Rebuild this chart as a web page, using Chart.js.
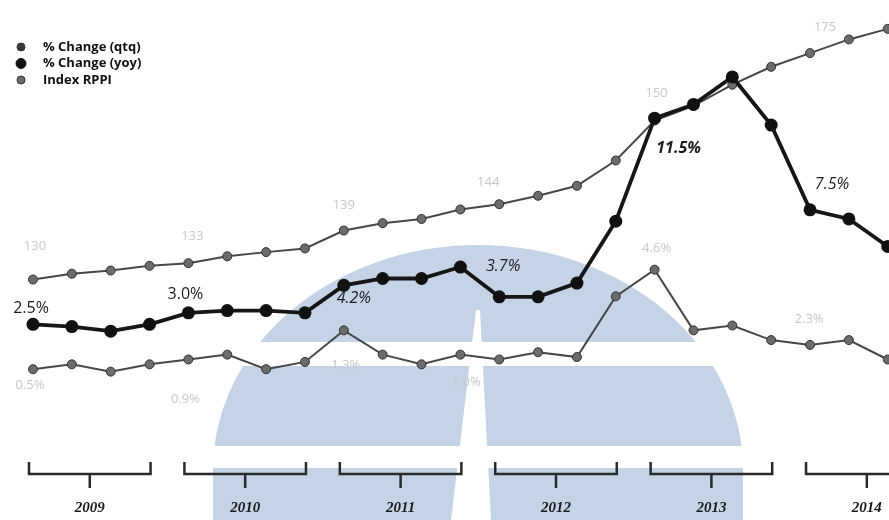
<!DOCTYPE html>
<html>
<head>
<meta charset="utf-8">
<script src="https://cdn.jsdelivr.net/npm/chart.js@4.4.1/dist/chart.umd.min.js"></script>
<style>
html,body{margin:0;padding:0;background:#fff;overflow:hidden;width:889px;height:520px;}
#wrap{position:relative;width:940px;height:520px;}
</style>
</head>
<body>
<div id="wrap"><canvas id="c"></canvas></div>
<script>
// ---------- DATA ----------
const years = ['2009', '2010', '2011', '2012', '2013', '2014'];
const quarters = ['Q1', 'Q2', 'Q3', 'Q4'];
const categories = years.flatMap(y => quarters.map(q => y + ' ' + q));

const qtqValues = [0.5, 0.7, 0.4, 0.7, 0.9, 1.1, 0.5, 0.8, 2.1, 1.1, 0.7, 1.1, 0.9, 1.2, 1.0, 3.5, 4.6, 2.1, 2.3, 1.7, 1.5, 1.7, 0.9];
const yoyValues = [2.5, 2.4, 2.2, 2.5, 3.0, 3.1, 3.1, 3.0, 4.2, 4.5, 4.5, 5.0, 3.7, 3.7, 4.3, 7.0, 11.5, 12.1, 13.3, 11.2, 7.5, 7.1, 5.9];
const rppiValues = [130.0, 131.1, 131.7, 132.6, 133.1, 134.4, 135.2, 135.9, 139.3, 140.7, 141.5, 143.3, 144.3, 145.9, 147.8, 152.6, 160.2, 163.0, 167.0, 170.4, 173.0, 175.6, 177.6];

// value labels shown at the first quarter of each year
const qtqYearLabels = ['0.5%', '0.9%', '1.3%', '1.0%', '4.6%', '2.3%'];
const yoyYearLabels = ['2.5%', '3.0%', '4.2%', '3.7%', '11.5%', '7.5%'];
const rppiYearLabels = ['130', '133', '139', '144', '150', '175'];

const seriesNames = ['% Change (qtq)', '% Change (yoy)', 'Index RPPI'];

// ---------- STYLE (label offsets relative to the point, px) ----------
const labelStyle = {
  yoy:  { font: '16px "Open Sans"', color: '#1c1c1c',
          offsets: [[-2,-16],[-3,-18],[10,13],[4,-30],[24,30],[22,-25]],
          italic: [false,false,true,true,true,true], bold:[false,false,false,false,true,false] },
  rppi: { font: '13px "Open Sans"', color: '#c9c9c9',
          offsets: [[2,-33],[4,-27],[0,-25],[-11,-22],[2,-27],[15,-26]] },
  qtq:  { font: '13px "Open Sans"', color: '#c9c9c9',
          offsets: [[-3,16],[-3,40],[2,35],[-33,23],[2,-21],[-1,-26]] }
};

const watermarkPlugin = {
  id: 'watermark',
  beforeDraw(chart) {
    const ctx = chart.ctx;
    ctx.save();
    ctx.fillStyle = '#ffffff';
    ctx.fillRect(0, 0, chart.width, chart.height);
    ctx.fillStyle = '#c5d3e6';
    ctx.beginPath();
    ctx.ellipse(478, 470, 265, 225, 0, Math.PI, 2 * Math.PI);
    ctx.lineTo(743, 520);
    ctx.lineTo(213, 520);
    ctx.closePath();
    ctx.fill();
    ctx.fillStyle = '#ffffff';
    ctx.fillRect(0, 342, chart.width, 24);
    ctx.fillRect(0, 446, chart.width, 22);
    ctx.beginPath();
    ctx.moveTo(476, 310);
    ctx.lineTo(480, 310);
    ctx.lineTo(491, 520);
    ctx.lineTo(451, 520);
    ctx.closePath();
    ctx.fill();
    ctx.restore();
  }
};

function drawYearLabels(chart, dsIndex, texts, st) {
  const meta = chart.getDatasetMeta(dsIndex);
  const ctx = chart.ctx;
  texts.forEach((t, k) => {
    const el = meta.data[k * 4];
    if (!el) return;
    let font = st.font;
    if (st.bold && st.bold[k]) font = 'bold ' + font;
    if (st.italic && st.italic[k]) font = 'italic ' + font;
    ctx.font = font;
    ctx.fillStyle = st.color;
    ctx.textAlign = 'center';
    ctx.textBaseline = 'middle';
    ctx.fillText(t, el.x + st.offsets[k][0], el.y + st.offsets[k][1]);
  });
}

const labelsPlugin = {
  id: 'valueLabels',
  afterDatasetsDraw(chart) {
    const ctx = chart.ctx;
    ctx.save();
    drawYearLabels(chart, 2, rppiYearLabels, labelStyle.rppi);
    drawYearLabels(chart, 0, qtqYearLabels, labelStyle.qtq);
    drawYearLabels(chart, 1, yoyYearLabels, labelStyle.yoy);
    ctx.restore();
  }
};

const bracketPlugin = {
  id: 'yearBrackets',
  afterDraw(chart) {
    const ctx = chart.ctx;
    const x = chart.scales.x;
    ctx.save();
    ctx.strokeStyle = '#2a2a2a';
    ctx.lineWidth = 2.5;
    ctx.fillStyle = '#1a1a1a';
    ctx.font = 'italic bold 15px "Liberation Serif"';
    ctx.textAlign = 'center';
    ctx.textBaseline = 'middle';
    years.forEach((y, k) => {
      const x0 = x.getPixelForValue(k * 4) - 4;
      const x1 = x.getPixelForValue(k * 4 + 3) + 1;
      const xm = (x0 + x1) / 2;
      ctx.beginPath();
      ctx.moveTo(x0, 462); ctx.lineTo(x0, 474); ctx.lineTo(x1, 474); ctx.lineTo(x1, 462);
      ctx.moveTo(xm, 474); ctx.lineTo(xm, 488);
      ctx.stroke();
      ctx.fillText(y, xm, 508);
    });
    ctx.restore();
  }
};

const legendPlugin = {
  id: 'sideLegend',
  afterDraw(chart) {
    const ctx = chart.ctx;
    ctx.save();
    const rows = [47, 63.5, 80];
    seriesNames.forEach((name, i) => {
      const ds = chart.data.datasets[i];
      ctx.beginPath();
      ctx.arc(21, rows[i], i === 1 ? 5 : 4, 0, Math.PI * 2);
      ctx.fillStyle = i === 0 ? '#3a3a3a' : ds.pointBackgroundColor;
      ctx.fill();
      ctx.lineWidth = 1;
      ctx.strokeStyle = ds.pointBorderColor;
      ctx.stroke();
      ctx.font = 'bold 13px "Open Sans"';
      ctx.fillStyle = '#111';
      ctx.textAlign = 'left';
      ctx.textBaseline = 'middle';
      ctx.fillText(name, 43, rows[i]);
    });
    ctx.restore();
  }
};

new Chart(document.getElementById('c'), {
  type: 'line',
  data: {
    labels: categories,
    datasets: [
      { label: seriesNames[0], data: qtqValues, yAxisID: 'yQtq', order: 2,
        borderColor: '#474747', borderWidth: 2, pointRadius: 4.5,
        pointBackgroundColor: '#6b6b6b', pointBorderColor: '#333', pointBorderWidth: 1, tension: 0, clip: false },
      { label: seriesNames[1], data: yoyValues, yAxisID: 'yYoy', order: 0,
        borderColor: '#161616', borderWidth: 3.8, pointRadius: 6.5,
        pointBackgroundColor: '#111', pointBorderColor: '#111', pointBorderWidth: 0, tension: 0, clip: false },
      { label: seriesNames[2], data: rppiValues, yAxisID: 'yRppi', order: 1,
        borderColor: '#474747', borderWidth: 2, pointRadius: 4.5,
        pointBackgroundColor: '#6b6b6b', pointBorderColor: '#333', pointBorderWidth: 1, tension: 0, clip: false }
    ]
  },
  options: {
    responsive: true,
    maintainAspectRatio: false,
    animation: false,
    layout: { padding: { left: 33, right: 13.4, top: 0, bottom: 0 } },
    plugins: { legend: { display: false }, tooltip: { enabled: false } },
    scales: {
      x: { type: 'category', display: false, offset: false },
      yYoy: { type: 'linear', display: false, min: -5.761, max: 16.376 },
      yRppi: { type: 'linear', display: false, min: 85.556, max: 181.852 },
      yQtq: { type: 'linear', display: false, min: -5.444, max: 15.44 }
    }
  },
  plugins: [watermarkPlugin, labelsPlugin, bracketPlugin, legendPlugin]
});
</script>
</body>
</html>
